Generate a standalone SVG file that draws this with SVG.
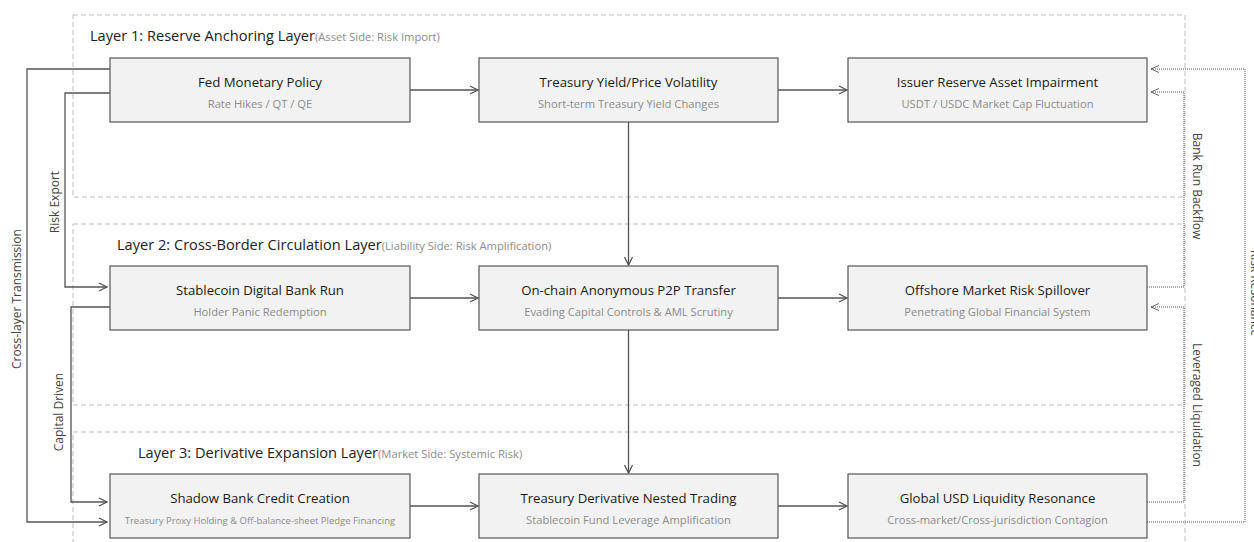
<svg xmlns="http://www.w3.org/2000/svg" width="1254" height="542" viewBox="0 0 1254 542">
<style>
.layer{fill:none;stroke:#bdbdbd;stroke-width:1;stroke-dasharray:5,3}
.node rect{fill:#f2f2f2;stroke:#555;stroke-width:1.2}
.t{font-family:"Open Sans","Noto Sans",sans-serif;font-size:13.2px;fill:#1a1a1a;text-anchor:middle}
.s{font-family:"Open Sans","Noto Sans",sans-serif;font-size:11.2px;fill:#8c8c8c;text-anchor:middle}
.lt{font-family:"Open Sans","Noto Sans",sans-serif;font-size:14.6px;fill:#222}
.ls{font-size:11.2px;fill:#8c8c8c}
.solid{fill:none;stroke:#555;stroke-width:1.3}
.dot{fill:none;stroke:#555;stroke-width:1;stroke-dasharray:1,1}
.el{font-family:"Open Sans","Noto Sans",sans-serif;font-size:12px;fill:#444;text-anchor:middle}
</style>
<defs>
<marker id="a" markerUnits="userSpaceOnUse" markerWidth="12" markerHeight="12" refX="9" refY="5" orient="auto">
<path d="M1,1 L9,5 L1,9" fill="none" stroke="#555" stroke-width="1.3"/>
</marker>
<marker id="ad" markerUnits="userSpaceOnUse" markerWidth="12" markerHeight="12" refX="9" refY="5" orient="auto">
<path d="M1,1.5 L9,5 L1,8.5" fill="none" stroke="#666" stroke-width="1"/>
</marker>
</defs>
<rect width="1254" height="542" fill="#fff"/>
<g id="layers">
<rect class="layer" x="73" y="15" width="1112" height="182"/>
<rect class="layer" x="73" y="224" width="1112" height="181"/>
<rect class="layer" x="73" y="432" width="1112" height="140"/>
<text class="lt" x="90" y="41">Layer 1: Reserve Anchoring Layer<tspan class="ls">(Asset Side: Risk Import)</tspan></text>
<text class="lt" x="117" y="250">Layer 2: Cross-Border Circulation Layer<tspan class="ls">(Liability Side: Risk Amplification)</tspan></text>
<text class="lt" x="138" y="458">Layer 3: Derivative Expansion Layer<tspan class="ls">(Market Side: Systemic Risk)</tspan></text>
</g>
<g id="connectors">
<path class="solid" d="M410,90 H478" marker-end="url(#a)"/>
<path class="solid" d="M778,90 H847" marker-end="url(#a)"/>
<path class="solid" d="M628.5,122 V265" marker-end="url(#a)"/>
<path class="solid" d="M410,298 H478" marker-end="url(#a)"/>
<path class="solid" d="M778,298 H847" marker-end="url(#a)"/>
<path class="solid" d="M628.5,330 V473" marker-end="url(#a)"/>
<path class="solid" d="M410,506 H478" marker-end="url(#a)"/>
<path class="solid" d="M778,506 H847" marker-end="url(#a)"/>
<path class="solid" d="M110,69 H27 V522 H107" marker-end="url(#a)"/>
<path class="solid" d="M110,93 H65 V287 H107" marker-end="url(#a)"/>
<path class="solid" d="M110,307 H71 V502 H107" marker-end="url(#a)"/>
<path class="dot" d="M1147,287 H1184 V92 H1151" marker-end="url(#ad)"/>
<path class="dot" d="M1147,502 H1184 V307 H1151" marker-end="url(#ad)"/>
<path class="dot" d="M1147,522 H1245 V69 H1151" marker-end="url(#ad)"/>
<text class="el" transform="translate(21,299) rotate(-90)">Cross-layer Transmission</text>
<text class="el" transform="translate(59,202) rotate(-90)">Risk Export</text>
<text class="el" transform="translate(63,412) rotate(-90)">Capital Driven</text>
<text class="el" transform="translate(1193,186) rotate(90)">Bank Run Backflow</text>
<text class="el" transform="translate(1193,405) rotate(90)">Leveraged Liquidation</text>
<text class="el" transform="translate(1251,293) rotate(90)">Risk Resonance</text>
</g>
<g id="n1" class="node"><rect x="110" y="58" width="300" height="64"/><text class="t" x="260" y="87">Fed Monetary Policy</text><text class="s" x="260" y="108">Rate Hikes / QT / QE</text></g>
<g id="n2" class="node"><rect x="479" y="58" width="299" height="64"/><text class="t" x="628.5" y="87">Treasury Yield/Price Volatility</text><text class="s" x="628.5" y="108">Short-term Treasury Yield Changes</text></g>
<g id="n3" class="node"><rect x="848" y="58" width="299" height="64"/><text class="t" x="997.5" y="87">Issuer Reserve Asset Impairment</text><text class="s" x="997.5" y="108">USDT / USDC Market Cap Fluctuation</text></g>
<g id="n4" class="node"><rect x="110" y="266" width="300" height="64"/><text class="t" x="260" y="295">Stablecoin Digital Bank Run</text><text class="s" x="260" y="316">Holder Panic Redemption</text></g>
<g id="n5" class="node"><rect x="479" y="266" width="299" height="64"/><text class="t" x="628.5" y="295">On-chain Anonymous P2P Transfer</text><text class="s" x="628.5" y="316">Evading Capital Controls &amp; AML Scrutiny</text></g>
<g id="n6" class="node"><rect x="848" y="266" width="299" height="64"/><text class="t" x="997.5" y="295">Offshore Market Risk Spillover</text><text class="s" x="997.5" y="316">Penetrating Global Financial System</text></g>
<g id="n7" class="node"><rect x="110" y="474" width="300" height="64"/><text class="t" x="260" y="503">Shadow Bank Credit Creation</text><text class="s" x="260" y="524" style="font-size:9.5px">Treasury Proxy Holding &amp; Off-balance-sheet Pledge Financing</text></g>
<g id="n8" class="node"><rect x="479" y="474" width="299" height="64"/><text class="t" x="628.5" y="503">Treasury Derivative Nested Trading</text><text class="s" x="628.5" y="524">Stablecoin Fund Leverage Amplification</text></g>
<g id="n9" class="node"><rect x="848" y="474" width="299" height="64"/><text class="t" x="997.5" y="503">Global USD Liquidity Resonance</text><text class="s" x="997.5" y="524">Cross-market/Cross-jurisdiction Contagion</text></g>
</svg>
